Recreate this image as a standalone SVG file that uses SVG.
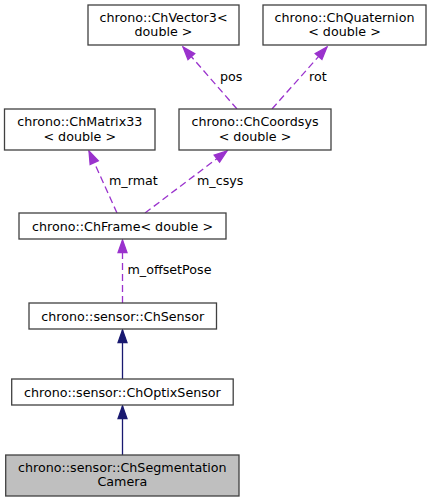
<svg xmlns="http://www.w3.org/2000/svg" width="432" height="501" viewBox="0 0 432 501">
<defs>
<style>
.node rect{fill:#ffffff;stroke:#404040;stroke-width:1.3}
.node rect.hl{fill:#bfbfbf}
text{font-family:"DejaVu Sans","Liberation Sans",sans-serif;font-size:12.7px;fill:#000000;text-anchor:middle}
.lbl{text-anchor:start}
.dash{fill:none;stroke:#9a32cd;stroke-width:1.3;stroke-dasharray:7,4}
.solid{fill:none;stroke:#191970;stroke-width:1.3}
</style>
<marker id="ap" markerUnits="userSpaceOnUse" markerWidth="14" markerHeight="10" refX="12.7" refY="4.5" orient="auto" overflow="visible">
<path d="M0,0 L12.7,4.5 L0,9 Z" fill="#9a32cd" stroke="#9a32cd" stroke-width="1.3"/>
</marker>
<marker id="an" markerUnits="userSpaceOnUse" markerWidth="14" markerHeight="10" refX="12.7" refY="4.5" orient="auto" overflow="visible">
<path d="M0,0 L12.7,4.5 L0,9 Z" fill="#191970" stroke="#191970" stroke-width="1.3"/>
</marker>
</defs>
<g id="edges">
<path class="dash" d="M237,109 L183,47" marker-end="url(#ap)"/>
<text class="lbl" x="220" y="81">pos</text>
<path class="dash" d="M272,109 L327,47" marker-end="url(#ap)"/>
<text class="lbl" x="309" y="81">rot</text>
<path class="dash" d="M117,213 L89,151" marker-end="url(#ap)"/>
<text class="lbl" x="109" y="185">m_rmat</text>
<path class="dash" d="M145,213 L227,151" marker-end="url(#ap)"/>
<text class="lbl" x="197" y="185">m_csys</text>
<path class="dash" d="M122.5,303 L122.5,240" marker-end="url(#ap)"/>
<text class="lbl" x="127.5" y="274">m_offsetPose</text>
<path class="solid" d="M122.5,379 L122.5,330" marker-end="url(#an)"/>
<path class="solid" d="M122.5,455 L122.5,406" marker-end="url(#an)"/>
</g>
<g id="ChVector3" class="node">
<rect x="88" y="5" width="151" height="40"/>
<text x="163.5" y="22">chrono::ChVector3&lt;</text>
<text x="163.5" y="36">double &gt;</text>
</g>
<g id="ChQuaternion" class="node">
<rect x="263" y="5" width="163" height="40"/>
<text x="344.5" y="22">chrono::ChQuaternion</text>
<text x="344.5" y="36">&lt; double &gt;</text>
</g>
<g id="ChMatrix33" class="node">
<rect x="4.5" y="109" width="150.5" height="41"/>
<text x="79.75" y="126">chrono::ChMatrix33</text>
<text x="79.75" y="140.5">&lt; double &gt;</text>
</g>
<g id="ChCoordsys" class="node">
<rect x="179" y="109" width="152" height="41"/>
<text x="255" y="126">chrono::ChCoordsys</text>
<text x="255" y="140.5">&lt; double &gt;</text>
</g>
<g id="ChFrame" class="node">
<rect x="19" y="213" width="207" height="26"/>
<text x="122.5" y="230.5">chrono::ChFrame&lt; double &gt;</text>
</g>
<g id="ChSensor" class="node">
<rect x="29" y="303" width="187.5" height="26"/>
<text x="122.75" y="320.5">chrono::sensor::ChSensor</text>
</g>
<g id="ChOptixSensor" class="node">
<rect x="11.7" y="379" width="221.5" height="26"/>
<text x="122.4" y="396.5">chrono::sensor::ChOptixSensor</text>
</g>
<g id="ChSegmentationCamera" class="node">
<rect class="hl" x="5.7" y="455" width="233.3" height="41"/>
<text x="122.3" y="471.7">chrono::sensor::ChSegmentation</text>
<text x="122.3" y="485.9">Camera</text>
</g>
</svg>
